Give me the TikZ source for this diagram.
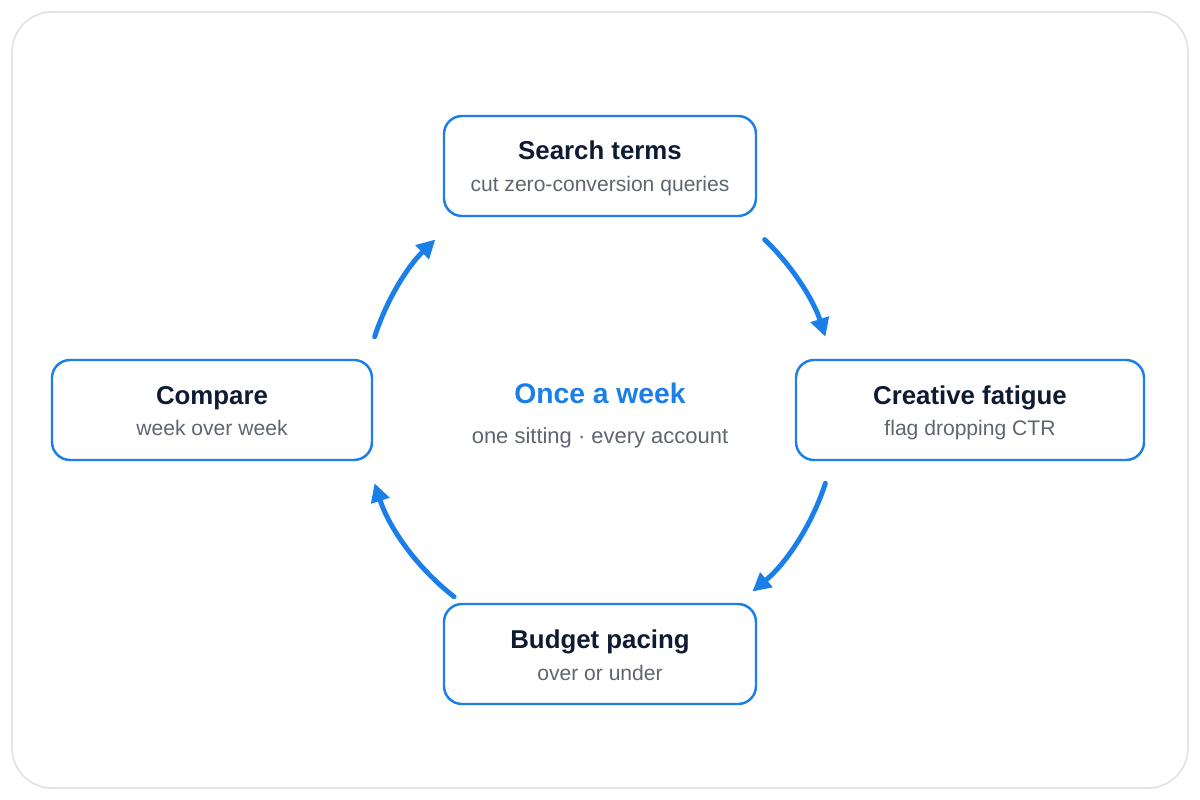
\documentclass[tikz,border=0pt]{standalone}
\usepackage{fontspec}
\setmainfont{Liberation Sans}
\usetikzlibrary{arrows.meta,calc}
\definecolor{accent}{HTML}{1A7FE8}
\definecolor{ink}{HTML}{0F1B33}
\definecolor{muted}{HTML}{5F6670}
\definecolor{frame}{HTML}{E3E5E8}
\tikzset{
  stepbox/.style={draw=accent, line width=1.4pt, rounded corners=0.36cm, fill=white, inner sep=0pt},
  ttl/.style={anchor=base, text=ink, font=\fontsize{14.7pt}{17pt}\selectfont\bfseries, inner sep=0pt},
  sub/.style={anchor=base, text=muted, font=\fontsize{12pt}{14pt}\selectfont, inner sep=0pt},
  flow/.style={draw=accent, line width=2.8pt, line cap=round, -{Triangle[length=10.5pt,width=10.5pt]}},
}
\begin{document}
\begin{tikzpicture}[x=0.02cm,y=-0.02cm]
\useasboundingbox (0,0) rectangle (1200,800);
\draw[frame, line width=1.1pt, rounded corners=0.8cm, fill=white] (12,12) rectangle (1188,788);
\coordinate (c) at (600,410);
% boxes
\node[stepbox, minimum width=312*0.02cm, minimum height=100*0.02cm] (search) at (600,166) {};
\node[stepbox, minimum width=348*0.02cm, minimum height=100*0.02cm] (creative) at (970,410) {};
\node[stepbox, minimum width=312*0.02cm, minimum height=100*0.02cm] (budget) at (600,654) {};
\node[stepbox, minimum width=320*0.02cm, minimum height=100*0.02cm] (compare) at (212,410) {};
% texts
\node[ttl] (searchT) at (600,160) {Search terms};
\node[sub] (searchS) at (600,192) {cut zero-conversion queries};
\node[ttl] (creativeT) at (970,404) {Creative fatigue};
\node[sub] (creativeS) at (970,436) {flag dropping CTR};
\node[ttl] (budgetT) at (600,648) {Budget pacing};
\node[sub] (budgetS) at (600,680) {over or under};
\node[ttl] (compareT) at (212,404) {Compare};
\node[sub] (compareS) at (212,436) {week over week};
\node[anchor=base, text=accent, inner sep=0pt, font=\fontsize{16.1pt}{19pt}\selectfont\bfseries] (hub) at (600,403) {Once a week};
\node[anchor=base, text=muted, inner sep=0pt, font=\fontsize{12.5pt}{15pt}\selectfont] (hubS) at (600,443) {one sitting · every account};
% arcs
\coordinate (a1) at ($(c)+(-162:237)$);
\coordinate (a2) at ($(c)+(-46:237)$);
\coordinate (a3) at ($(c)+(18:237)$);
\coordinate (a4) at ($(c)+(128:237)$);
\draw[flow] (a1) arc[start angle=-162, end angle=-134, radius=237];
\draw[flow] (a2) arc[start angle=-46, end angle=-18, radius=237];
\draw[flow] (a3) arc[start angle=18, end angle=50, radius=237];
\draw[flow] (a4) arc[start angle=128, end angle=162, radius=237];
\end{tikzpicture}
\end{document}
